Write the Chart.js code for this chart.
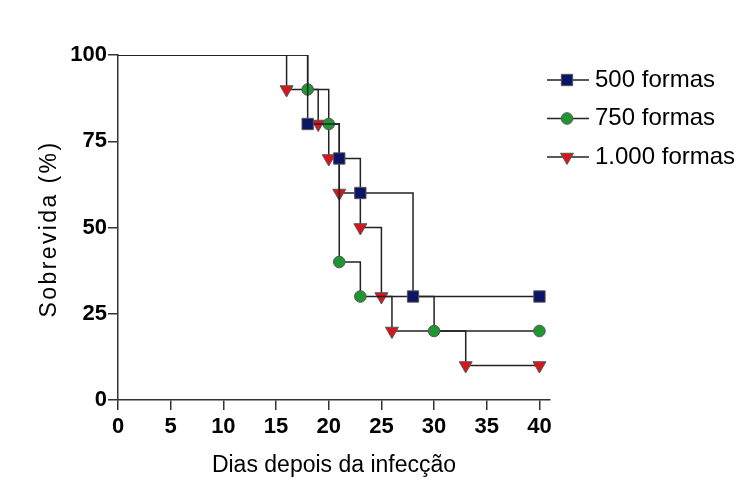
<!DOCTYPE html>
<html>
<head>
<meta charset="utf-8">
<script src="https://cdn.jsdelivr.net/npm/chart.js@4"></script>
<style>
  html, body { margin: 0; padding: 0; background: #fff; }
  #wrap { width: 737px; height: 498px; }
</style>
</head>
<body>
<div id="wrap"><canvas id="km"></canvas></div>
<script>
// survival (%) at each event day, Kaplan-Meier style
const days500 = [0, 18, 21, 23, 28, 40];
const surv500 = [100, 80, 70, 60, 30, 30];
const days750 = [0, 18, 20, 21, 23, 30, 40];
const surv750 = [100, 90, 80, 40, 30, 20, 20];
const days1000 = [0, 16, 19, 20, 21, 23, 25, 26, 33, 40];
const surv1000 = [100, 90, 80, 70, 60, 50, 30, 20, 10, 10];

const seriesNames = ["500 formas", "750 formas", "1.000 formas"];
const xTicks = [0, 5, 10, 15, 20, 25, 30, 35, 40];
const yTicks = [0, 25, 50, 75, 100];

const FONT = "'Liberation Sans', Arial, sans-serif";

function pts(xs, ys) {
    return xs.map((x, i) => ({x: x, y: ys[i]}));
}
// no marker on the starting point
function radii(xs, r) {
    return xs.map((x, i) => i === 0 ? 0 : r);
}

const styles = [
    {pointStyle: "rect", color: "#0c1466", radius: 8, rotation: 0},
    {pointStyle: "circle", color: "#1e9632", radius: 5.8, rotation: 0},
    {pointStyle: "triangle", color: "#d8141c", radius: 7.5, rotation: 180},
];

function makeSet(i, xs, ys) {
    const s = styles[i];
    return {
        label: seriesNames[i],
        data: pts(xs, ys),
        stepped: "before",
        borderColor: "#222",
        borderWidth: 1.5,
        fill: false,
        pointStyle: s.pointStyle,
        pointRotation: s.rotation,
        pointRadius: radii(xs, s.radius),
        pointHoverRadius: radii(xs, s.radius),
        pointBackgroundColor: s.color,
        pointBorderColor: "#555",
        pointBorderWidth: 1,
    };
}

// legend with line + marker, and the letter-spaced y title
const extras = {
    id: "extras",
    afterDraw(chart) {
        const ctx = chart.ctx;
        ctx.save();
        chart.data.datasets.forEach((ds, i) => {
            const s = styles[i];
            const y = 80 + i * 38.5;
            ctx.strokeStyle = "#222";
            ctx.lineWidth = 1.5;
            ctx.beginPath();
            ctx.moveTo(547, y);
            ctx.lineTo(589, y);
            ctx.stroke();
            ctx.fillStyle = s.color;
            ctx.strokeStyle = "#555";
            ctx.lineWidth = 1;
            Chart.helpers.drawPoint(ctx, {
                pointStyle: s.pointStyle, rotation: s.rotation,
                radius: s.radius, borderWidth: 1
            }, 567, y);
            ctx.fillStyle = "#000";
            ctx.font = "24px " + FONT;
            ctx.textAlign = "left";
            ctx.textBaseline = "middle";
            ctx.fillText(ds.label, 595, y);
        });

        ctx.translate(50, 229);
        ctx.rotate(-Math.PI / 2);
        ctx.font = "23px " + FONT;
        ctx.letterSpacing = "2.4px";
        ctx.textAlign = "center";
        ctx.textBaseline = "middle";
        ctx.fillStyle = "#000";
        ctx.fillText("Sobrevida (%)", 0, 0);
        ctx.restore();
    }
};

new Chart(document.getElementById("km"), {
    type: "line",
    data: {
        datasets: [
            makeSet(0, days500, surv500),
            makeSet(1, days750, surv750),
            makeSet(2, days1000, surv1000),
        ],
    },
    options: {
        responsive: true,
        maintainAspectRatio: false,
        animation: false,
        layout: {padding: {top: 55, right: 187, left: 0, bottom: 0}},
        plugins: {
            legend: {display: false},
            tooltip: {enabled: false},
        },
        scales: {
            x: {
                type: "linear",
                min: 0,
                max: 41,
                afterBuildTicks: (scale) => { scale.ticks = xTicks.map(v => ({value: v})); },
                afterFit: (scale) => { scale.height = 98; },
                border: {color: "#333", width: 1.5},
                grid: {drawOnChartArea: false, tickLength: 10, color: "#333", lineWidth: 1.5},
                ticks: {
                    color: "#000",
                    padding: 4,
                    maxRotation: 0,
                    font: {family: FONT, size: 22, weight: "bold"},
                },
                title: {
                    display: true,
                    text: "Dias depois da infecção",
                    color: "#000",
                    padding: {top: 4, bottom: 19},
                    font: {family: FONT, size: 23},
                },
            },
            y: {
                type: "linear",
                min: 0,
                max: 100,
                afterBuildTicks: (scale) => { scale.ticks = yTicks.map(v => ({value: v})); },
                afterFit: (scale) => { scale.width = 118; },
                border: {color: "#333", width: 1.5},
                grid: {drawOnChartArea: false, tickLength: 10, color: "#333", lineWidth: 1.5},
                ticks: {
                    color: "#000",
                    padding: 1,
                    font: {family: FONT, size: 22, weight: "bold"},
                },
            },
        },
    },
    plugins: [extras],
});
</script>
</body>
</html>
